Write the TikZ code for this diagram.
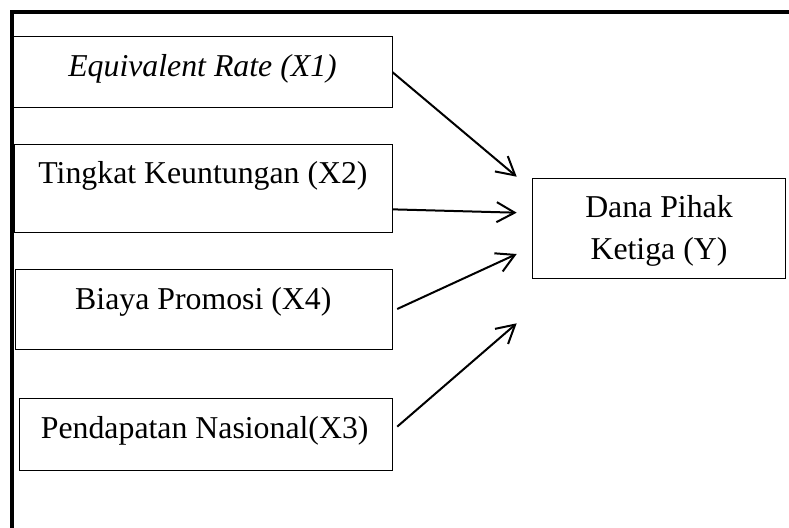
\documentclass[tikz,border=0pt]{standalone}
\usepackage{fontspec}
\setmainfont{Liberation Serif}
\usetikzlibrary{arrows.meta}
\begin{document}
\begin{tikzpicture}[x=1pt,y=-1pt,
  box/.style={draw=black,line width=1pt,inner sep=0pt,rectangle},
  lbl/.style={anchor=base,inner sep=0pt,font=\fontsize{31.8}{42.5}\selectfont},
  arr/.style={line width=2pt,-{Straight Barb[length=18pt,width=20pt,line width=2pt]}},
  frame/.style={line width=4pt}]
\useasboundingbox (0,0) rectangle (789,527);
% frame
\draw[frame] (11.7,529) -- (11.7,12) -- (791,12);
% boxes
\node[box,minimum width=379.7pt,minimum height=71pt] (x1) at (202.15,72.2) {};
\node[box,minimum width=378pt,minimum height=88.7pt] (x2) at (203,188.35) {};
\node[box,minimum width=377pt,minimum height=80pt] (x4) at (203.5,309) {};
\node[box,minimum width=372.7pt,minimum height=71.7pt] (x3) at (205.65,434.15) {};
\node[box,minimum width=252.5pt,minimum height=100pt] (y) at (659,228.2) {};
% texts
\node[lbl] (t1) at (202.5,76.7) {\itshape Equivalent Rate (X1)};
\node[lbl] (t2) at (203,183.3) {Tingkat Keuntungan (X2)};
\node[lbl] (t4) at (203.3,309.3) {Biaya Promosi (X4)};
\node[lbl] (t3) at (204.7,438.3) {Pendapatan Nasional(X3)};
\node[lbl] (ty1) at (659,217) {Dana Pihak};
\node[lbl] (ty2) at (659,259.3) {Ketiga (Y)};
% arrow tips
\coordinate (a1) at (516.7,176.7);
\coordinate (a2) at (516.7,212.7);
\coordinate (a4) at (516.7,254);
\coordinate (a3) at (516.7,323.3);
% arrows
\draw[arr] (x1.east) -- (a1);
\draw[arr] ([yshift=-21pt]x2.east) -- (a2);
\draw[arr] ([xshift=4.7pt]x4.east) -- (a4);
\draw[arr] ([xshift=4.7pt,yshift=7.5pt]x3.east) -- (a3);
\end{tikzpicture}
\end{document}
